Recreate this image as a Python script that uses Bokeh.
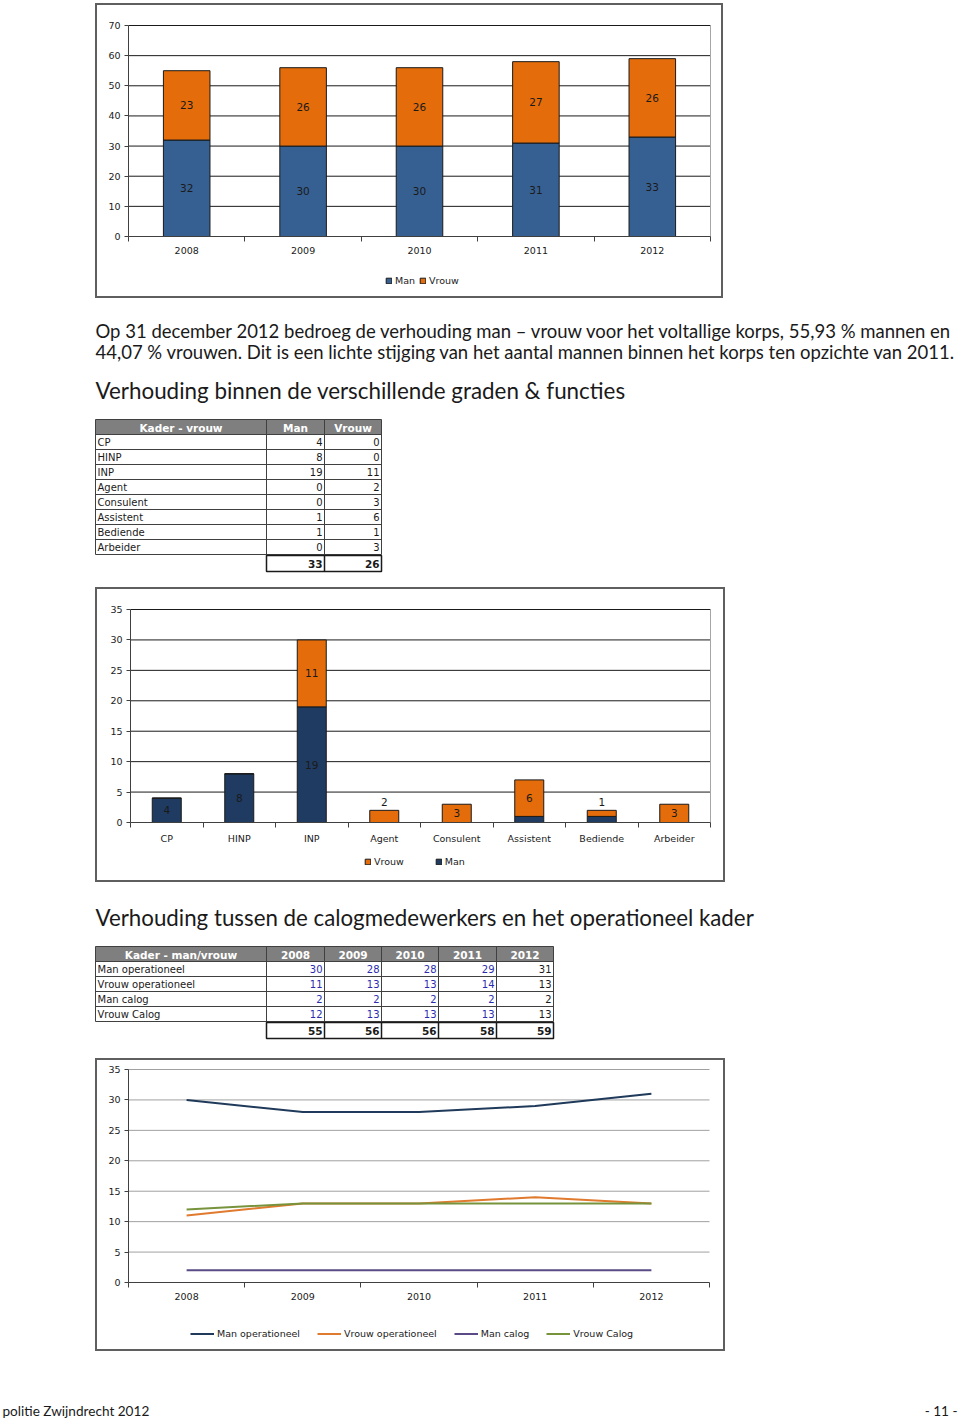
import numpy as np
from bokeh.plotting import figure
from bokeh.models import Range1d, LinearAxis, FixedTicker, Legend, LegendItem, Spacer, ColumnDataSource
from bokeh.layouts import column, row
from bokeh.embed import file_html
from bokeh.resources import INLINE
from bokeh.core.properties import value

# ---------------- data ----------------
years = [2008, 2009, 2010, 2011, 2012]
korps_man = [32, 30, 30, 31, 33]
korps_vrouw = [23, 26, 26, 27, 26]

functies = ["CP", "HINP", "INP", "Agent", "Consulent", "Assistent", "Bediende", "Arbeider"]
functie_man = [4, 8, 19, 0, 0, 1, 1, 0]
functie_vrouw = [0, 0, 11, 2, 3, 6, 1, 3]

kader_labels = ["Man operationeel", "Vrouw operationeel", "Man calog", "Vrouw Calog"]
man_operationeel = [30, 28, 28, 29, 31]
vrouw_operationeel = [11, 13, 13, 14, 13]
man_calog = [2, 2, 2, 2, 2]
vrouw_calog = [12, 13, 13, 13, 13]

y_ticks_korps = [0, 10, 20, 30, 40, 50, 60, 70]
y_ticks_functies = [0, 5, 10, 15, 20, 25, 30, 35]
y_ticks_kader = [0, 5, 10, 15, 20, 25, 30, 35]

paragraph = [
    "Op 31 december 2012 bedroeg de verhouding man \u2013 vrouw voor het voltallige korps, 55,93 % mannen en",
    "44,07 % vrouwen. Dit is een lichte stijging van het aantal mannen binnen het korps ten opzichte van 2011.",
]
heading1 = "Verhouding binnen de verschillende graden & functies"
heading2 = "Verhouding tussen de calogmedewerkers en het operationeel kader"
table1_header = ["Kader - vrouw", "Man", "Vrouw"]
table2_header = ["Kader - man/vrouw"] + [str(y) for y in years]
footer_left = "politie Zwijndrecht 2012"
footer_right = "- 11 -"

# ---------------- styles ----------------
UI_NAME = "DejaVu Sans"
UI = value(UI_NAME)
TXT = value("Lato")
BW = 2
BOX = {"border": "%dpx solid #5f5f5f" % BW}
C_MAN1 = "#376092"
C_VROUW = "#e46c0a"
C_MAN2 = "#1f3b62"
TXT_COL = "#1a1a1a"


def pixel_range(pa, a, pb, b, c0, size, vertical):
    """Range so that value a sits at page pixel pa and b at pb, for a canvas starting at c0."""
    if vertical:
        k = (pa - pb) / (b - a)
        return Range1d(a + (pa - c0 - size) / k, a + (pa - c0) / k)
    k = (pb - pa) / (b - a)
    return Range1d(a + (c0 - pa) / k, a + (c0 + size - pa) / k)


def make_chart(box_x, box_y, W, H, xpix, ypix, x_lo, x_hi, y_ticks, centers, labels,
               grid_color, edge_color):
    xr = pixel_range(xpix[0], x_lo, xpix[1], x_hi, box_x + BW, W, False)
    yr = pixel_range(ypix[0], y_ticks[0], ypix[1], y_ticks[-1], box_y + BW, H, True)
    p = figure(width=W, height=H, x_range=xr, y_range=yr,
               min_border_left=0, min_border_right=0, min_border_top=0, min_border_bottom=0,
               x_axis_type=None, y_axis_type=None, output_backend="svg", toolbar_location=None,
               outline_line_color=None, styles=BOX)
    step = centers[1] - centers[0]
    bounds = [c - step / 2 for c in centers] + [centers[-1] + step / 2]
    overrides = {}
    for c, l in zip(centers, labels):
        overrides[c] = l
        overrides[str(c)] = l
    # horizontal gridlines across the category span
    p.segment(x0=x_lo, x1=x_hi, y0=y_ticks[1:], y1=y_ticks[1:], line_color=grid_color, line_width=1)
    if edge_color is not None:
        p.segment(x0=[x_hi], x1=[x_hi], y0=[y_ticks[0]], y1=[y_ticks[-1]], line_color=edge_color, line_width=1)
    xax = LinearAxis(ticker=FixedTicker(ticks=list(centers), minor_ticks=bounds), fixed_location=y_ticks[0],
                     bounds=(x_lo, x_hi), major_label_overrides=overrides, major_tick_out=0, major_tick_in=0,
                     major_tick_line_color=None, minor_tick_in=0, minor_tick_out=5,
                     minor_tick_line_color="#404040", axis_line_color="#404040",
                     major_label_standoff=5, major_label_text_font=UI_NAME,
                     major_label_text_font_size="9.5px", major_label_text_color=TXT_COL)
    p.add_layout(xax, "below")
    yax = LinearAxis(ticker=FixedTicker(ticks=y_ticks), fixed_location=x_lo, bounds=(y_ticks[0], y_ticks[-1]),
                     major_tick_out=4, major_tick_in=0,
                     major_tick_line_color="#404040", minor_tick_line_color=None,
                     axis_line_color="#404040", major_label_standoff=4, major_label_text_font=UI_NAME,
                     major_label_text_font_size="9.5px", major_label_text_color=TXT_COL)
    p.add_layout(yax, "left")
    return p


def legend_for(items, box_x, box_y, H, left_px, mid_px, glyph_w, glyph_h, spacing, standoff):
    loc = (left_px - (box_x + BW), (box_y + BW + H) - (mid_px + 6))
    return Legend(items=items, orientation="horizontal", location=loc, glyph_width=glyph_w,
                  glyph_height=glyph_h, label_standoff=standoff, spacing=spacing, padding=0, margin=0,
                  label_height=12, border_line_color=None, background_fill_alpha=0,
                  label_text_font=UI_NAME, label_text_font_size="9.5px", label_text_color=TXT_COL)


# ---------------- chart 1 : korps per jaar ----------------
km = np.array(korps_man)
kv = np.array(korps_vrouw)
src1 = ColumnDataSource(dict(x=years, man=km, tot=km + kv, man_mid=km / 2, vr_mid=km + kv / 2,
                             man_lbl=[str(v) for v in km], vr_lbl=[str(v) for v in kv]))
p1 = make_chart(95, 3, 628, 295, (128, 710), (236, 25), years[0] - 0.5, years[-1] + 0.5,
                y_ticks_korps, years, [str(y) for y in years], "#1a1a1a", "#a6a6a6")
r1m = p1.vbar(x="x", top="man", bottom=0, width=0.4, source=src1, fill_color=C_MAN1, line_color="#1a1a1a")
r1v = p1.vbar(x="x", top="tot", bottom="man", width=0.4, source=src1, fill_color=C_VROUW, line_color="#1a1a1a")
for ycol, tcol in (("man_mid", "man_lbl"), ("vr_mid", "vr_lbl")):
    p1.text(x="x", y=ycol, text=tcol, source=src1, text_align="center", text_baseline="middle",
            text_font=UI, text_font_size="10.5px", text_color=TXT_COL)
p1.add_layout(legend_for([LegendItem(label="Man", renderers=[r1m]),
                          LegendItem(label="Vrouw", renderers=[r1v])],
                         95, 3, 295, 385, 280, 7, 7, 4, 3), "center")

# ---------------- chart 2 : functies ----------------
fx = list(range(1, len(functies) + 1))
fm = np.array(functie_man)
fv = np.array(functie_vrouw)
# small orange segments get their label just above the bar, as in the original
vr_y = np.where(fv < 3, fm + fv + 1.3, fm + fv / 2)
src2 = ColumnDataSource(dict(x=fx, man=fm, tot=fm + fv, man_mid=fm / 2, vr_mid=vr_y,
                             man_lbl=[str(v) if v > 1 else "" for v in fm],
                             vr_lbl=[str(v) if v > 0 else "" for v in fv]))
p2 = make_chart(95, 587, 630, 295, (130, 710), (822, 609), 0.5, len(functies) + 0.5,
                y_ticks_functies, fx, functies, "#1a1a1a", "#a6a6a6")
r2m = p2.vbar(x="x", top="man", bottom=0, width=0.4, source=src2, fill_color=C_MAN2, line_color="#1a1a1a")
r2v = p2.vbar(x="x", top="tot", bottom="man", width=0.4, source=src2, fill_color=C_VROUW, line_color="#1a1a1a")
for ycol, tcol in (("man_mid", "man_lbl"), ("vr_mid", "vr_lbl")):
    p2.text(x="x", y=ycol, text=tcol, source=src2, text_align="center", text_baseline="middle",
            text_font=UI, text_font_size="10.5px", text_color=TXT_COL)
p2.add_layout(legend_for([LegendItem(label="Vrouw", renderers=[r2v]),
                          LegendItem(label="Man", renderers=[r2m])],
                         95, 587, 295, 364, 861, 7, 7, 31, 3), "center")

# ---------------- chart 3 : kader lijnen ----------------
p3 = make_chart(95, 1058, 630, 293, (128, 709), (1282, 1069), years[0] - 0.5, years[-1] + 0.5,
                y_ticks_kader, years, [str(y) for y in years], "#a0a0a0", None)
series = [(man_operationeel, "#1f3a5a"), (vrouw_operationeel, "#e07a2e"),
          (man_calog, "#5a4a85"), (vrouw_calog, "#77933c")]
items3 = []
for (vals, col), lab in zip(series, kader_labels):
    r = p3.line(years, vals, line_color=col, line_width=2)
    items3.append(LegendItem(label=lab, renderers=[r]))
p3.add_layout(legend_for(items3, 95, 1058, 293, 190, 1333, 24, 7, 17, 3), "center")


# ---------------- page text figures ----------------
def page_fig(h):
    p = figure(width=960, height=h, x_range=Range1d(0, 960), y_range=Range1d(h, 0),
               min_border_left=0, min_border_right=0, min_border_top=0, min_border_bottom=0,
               x_axis_type=None, y_axis_type=None, output_backend="svg", toolbar_location=None,
               outline_line_color=None)
    return p


def draw_table(p, top, edges, header, row_labels, cols, col_colors, totals, row_h=15, head_h=15, total_h=16):
    left, right = edges[0], edges[-1]
    n = len(row_labels)
    p.quad(left=[left], right=[right], top=[top], bottom=[top + head_h], fill_color="#7f7f7f", line_color=None)
    cx = [(edges[i] + edges[i + 1]) / 2 for i in range(len(edges) - 1)]
    p.text(x=cx, y=[top + head_h / 2 + 0.5] * len(cx), text=header, text_color="white", text_font=UI,
           text_font_style="bold", text_font_size="10.5px", text_align="center", text_baseline="middle")
    body = top + head_h
    ys = [body + (i + 0.5) * row_h for i in range(n)]
    hy = [top] + [body + i * row_h for i in range(n + 1)]
    p.segment(x0=left, x1=right, y0=hy, y1=hy, line_color="#404040", line_width=1)
    p.segment(x0=edges, x1=edges, y0=top, y1=body + n * row_h, line_color="#404040", line_width=1)
    p.text(x=left + 2, y=ys, text=row_labels, text_font=UI, text_font_size="10px", text_color=TXT_COL,
           text_align="left", text_baseline="middle")
    for j, col in enumerate(cols):
        p.text(x=[edges[j + 2] - 2] * n, y=ys, text=[str(v) for v in col], text_font=UI,
               text_font_size="10px", text_color=col_colors[j], text_align="right", text_baseline="middle")
    tt = body + n * row_h + 1
    p.quad(left=[edges[1]], right=[right], top=[tt], bottom=[tt + total_h], fill_color=None,
           line_color="#1a1a1a", line_width=1.5)
    p.segment(x0=edges[2:-1], x1=edges[2:-1], y0=tt, y1=tt + total_h, line_color="#1a1a1a", line_width=1.5)
    p.text(x=[e - 2 for e in edges[2:]], y=[tt + total_h / 2] * len(totals), text=[str(t) for t in totals],
           text_font=UI, text_font_style="bold", text_font_size="10.5px", text_color=TXT_COL,
           text_align="right", text_baseline="middle")


# text block 1 (page y 298..587)
t1 = page_fig(289)
t1.text(x=[95, 95], y=[32, 53], text=paragraph, text_font=TXT, text_font_size="18.5px",
        text_color=TXT_COL, text_baseline="middle")
t1.text(x=[95], y=[92], text=[heading1], text_font=TXT, text_font_size="22.4px",
        text_color=TXT_COL, text_baseline="middle")
draw_table(t1, 121, [95, 266, 324, 381], table1_header, functies, [functie_man, functie_vrouw],
           [TXT_COL, TXT_COL], [sum(functie_man), sum(functie_vrouw)])

# text block 2 (page y 882..1058)
t2 = page_fig(176)
t2.text(x=[95], y=[35], text=[heading2], text_font=TXT, text_font_size="22.3px",
        text_color=TXT_COL, text_baseline="middle")
kader_cols = [list(c) for c in zip(man_operationeel, vrouw_operationeel, man_calog, vrouw_calog)]
kader_totals = [a + b + c + d for a, b, c, d in zip(man_operationeel, vrouw_operationeel, man_calog, vrouw_calog)]
draw_table(t2, 64, [95, 266, 324, 381, 438, 496, 553], table2_header, kader_labels, kader_cols,
           ["#2b2bb0"] * 4 + [TXT_COL], kader_totals)

# footer (page y 1351..1420)
ft = page_fig(69)
ft.text(x=[2], y=[59], text=[footer_left], text_font=TXT, text_font_size="13.6px", text_color=TXT_COL,
        text_baseline="middle")
ft.text(x=[957], y=[59], text=[footer_right], text_font=TXT, text_font_size="13.6px", text_color=TXT_COL,
        text_baseline="middle", text_align="right")

layout = column(
    Spacer(width=960, height=3),
    row(Spacer(width=95, height=295), p1),
    t1,
    row(Spacer(width=95, height=295), p2),
    t2,
    row(Spacer(width=95, height=293), p3),
    ft,
)

open("out.html", "w").write(file_html(layout, INLINE, title="politie Zwijndrecht 2012"))
